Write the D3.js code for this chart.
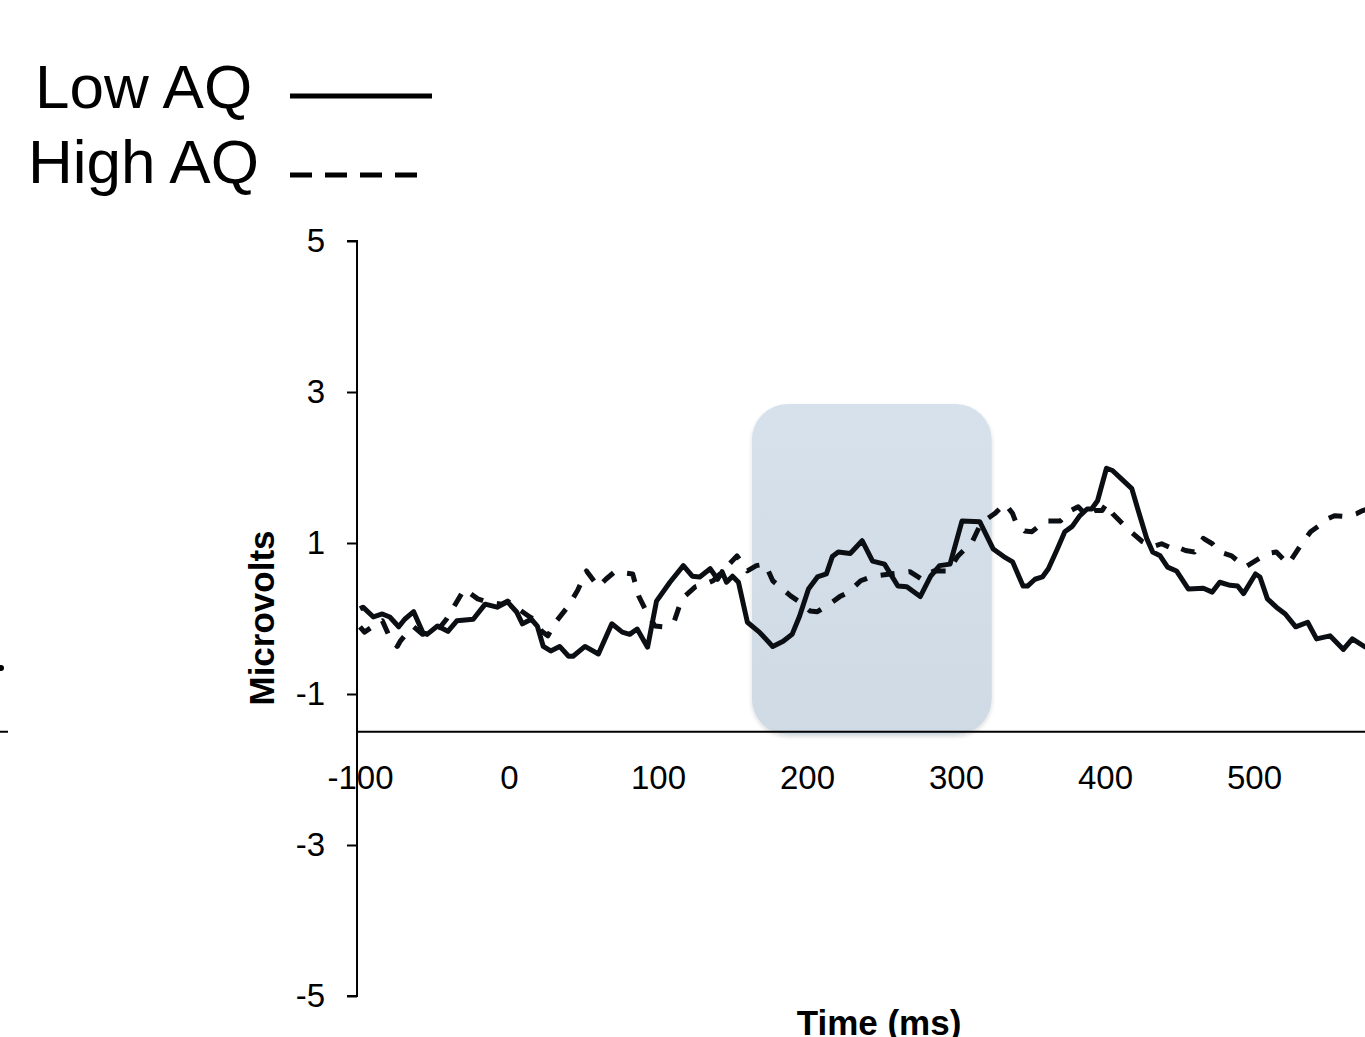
<!DOCTYPE html>
<html>
	<head>
		<title>ERP - Low AQ vs High AQ</title>
		<script src="https://d3js.org/d3.v7.min.js"></script>
		<style>
			body { margin: 0; background: #fff; }
			text { font-family: "Liberation Sans", Arial, sans-serif; fill: #000; }
		</style>
	</head>

	<body>

		<svg width="1365" height="1037"></svg>

		<script type="text/javascript">
			// Low AQ (solid line)
			var lowTime = [-100, -98, -91, -85, -80, -74, -70, -64, -58, -55, -48, -41, -35, -24, -16, -8, -1,
				5, 9, 15, 19, 23, 28, 34, 40, 43, 51, 60, 69, 76, 81, 86, 93, 99, 108, 117, 123, 128, 135,
				140, 143, 146, 150, 154, 160, 168, 177, 184, 190, 195, 201, 207, 213, 217, 221, 229, 237,
				244, 252, 261, 267, 276, 283, 289, 296, 304, 316, 325, 332, 338, 345, 348, 353, 358, 362,
				368, 373, 378, 383, 388, 391, 395, 401, 405, 411, 418, 422, 428, 432, 437, 442, 448, 456,
				466, 472, 477, 484, 489, 493, 501, 504, 509, 515, 521, 528, 536, 542, 551, 560, 566, 574, 580];
			var lowValues = [0.13, 0.15, 0.02, 0.06, 0.02, -0.11, -0.01, 0.09, -0.18, -0.21, -0.10, -0.17, -0.03,
				-0.01, 0.19, 0.15, 0.22, 0.09, -0.07, -0.01, -0.10, -0.37, -0.43, -0.37, -0.50, -0.50, -0.37,
				-0.47, -0.07, -0.18, -0.21, -0.14, -0.38, 0.23, 0.48, 0.70, 0.56, 0.55, 0.66, 0.52, 0.62, 0.48,
				0.56, 0.48, -0.05, -0.18, -0.37, -0.30, -0.21, 0.03, 0.39, 0.55, 0.59, 0.82, 0.88, 0.86, 1.03,
				0.76, 0.72, 0.43, 0.42, 0.29, 0.56, 0.70, 0.72, 1.29, 1.28, 0.92, 0.82, 0.75, 0.43, 0.43, 0.52,
				0.55, 0.66, 0.92, 1.15, 1.22, 1.36, 1.45, 1.45, 1.56, 1.99, 1.96, 1.85, 1.72, 1.45, 1.06, 0.88,
				0.83, 0.68, 0.63, 0.39, 0.40, 0.35, 0.48, 0.44, 0.43, 0.33, 0.59, 0.55, 0.26, 0.15, 0.06, -0.11,
				-0.05, -0.27, -0.23, -0.41, -0.27, -0.37, -0.42];

			// High AQ (dashed line)
			var highTime = [-100, -97, -91, -85, -80, -75, -73, -68, -64, -58, -52, -46, -42, -36, -30, -21, -13,
				-5, -1, 6, 14, 17, 22, 26, 32, 40, 46, 52, 60, 65, 71, 83, 87, 93, 98, 103, 111, 116, 125, 132,
				137, 145, 153, 160, 166, 172, 177, 189, 195, 202, 207, 215, 222, 228, 236, 244, 256, 269, 277,
				285, 295, 301, 306, 311, 316, 321, 326, 333, 338, 341, 346, 351, 356, 360, 370, 377, 382, 388,
				393, 398, 401, 405, 410, 415, 425, 432, 438, 446, 448, 454, 460, 466, 472, 477, 485, 494, 503,
				509, 515, 523, 531, 538, 543, 546, 554, 562, 569, 573, 581];
			var highValues = [-0.11, -0.18, -0.10, -0.03, -0.25, -0.37, -0.30, -0.18, -0.11, -0.21, -0.17, -0.11,
				-0.01, 0.19, 0.39, 0.26, 0.21, 0.19, 0.23, 0.13, 0.02, -0.01, -0.17, -0.23, -0.03, 0.17, 0.37,
				0.63, 0.42, 0.52, 0.62, 0.59, 0.30, 0.06, -0.10, -0.11, -0.03, 0.26, 0.42, 0.46, 0.50, 0.66,
				0.83, 0.63, 0.70, 0.72, 0.50, 0.30, 0.22, 0.10, 0.09, 0.19, 0.29, 0.35, 0.50, 0.56, 0.59, 0.62,
				0.52, 0.63, 0.63, 0.82, 0.92, 1.02, 1.23, 1.32, 1.39, 1.52, 1.39, 1.23, 1.16, 1.15, 1.23, 1.29,
				1.29, 1.43, 1.48, 1.36, 1.43, 1.43, 1.52, 1.39, 1.29, 1.19, 1.02, 0.95, 0.99, 0.92, 0.95, 0.90,
				0.88, 1.06, 0.99, 0.88, 0.83, 0.68, 0.79, 0.86, 0.88, 0.72, 0.96, 1.15, 1.22, 1.29, 1.36, 1.35,
				1.39, 1.43, 1.48];

			var yTicks = [5, 3, 1, -1, -3, -5];
			var xTicks = [-100, 0, 100, 200, 300, 400, 500];
			var windowTime = [163, 324];     // shaded analysis window
			var windowVolts = [2.84, -1.54];
			var legendNames = ["Low AQ", "High AQ"];

			var svg = d3.select("svg");

			var x = d3.scaleLinear()
				.domain([-100, 600])
				.range([360, 1403]);

			var y = d3.scaleLinear()
				.domain([-5, 5])
				.range([996, 241]);

			var axisX = x(-102);   // y axis sits just left of -100
			var axisY = y(-1.5);   // x axis crosses at -1.5 µV

			// plain hyphen for negatives, like the original
			var fmt = function(d) { return String(d); };

			// shaded window
			var defs = svg.append("defs");
			var grad = defs.append("linearGradient")
				.attr("id", "win")
				.attr("x1", 0).attr("y1", 0).attr("x2", 0).attr("y2", 1);
			grad.append("stop").attr("offset", "0%").attr("stop-color", "#d6e1ec");
			grad.append("stop").attr("offset", "100%").attr("stop-color", "#cfdae5");

			var blur = defs.append("filter").attr("id", "soft")
				.attr("x", "-10%").attr("y", "-10%").attr("width", "120%").attr("height", "120%");
			blur.append("feGaussianBlur").attr("in", "SourceAlpha").attr("stdDeviation", 2).attr("result", "b");
			blur.append("feOffset").attr("in", "b").attr("dy", 2).attr("result", "o");
			blur.append("feComponentTransfer").attr("in", "o").attr("result", "s")
				.append("feFuncA").attr("type", "linear").attr("slope", 0.15);
			var merge = blur.append("feMerge");
			merge.append("feMergeNode").attr("in", "s");
			merge.append("feMergeNode").attr("in", "SourceGraphic");

			svg.append("rect")
				.attr("x", x(windowTime[0]))
				.attr("y", y(windowVolts[0]))
				.attr("width", x(windowTime[1]) - x(windowTime[0]))
				.attr("height", y(windowVolts[1]) - y(windowVolts[0]))
				.attr("rx", 36)
				.attr("filter", "url(#soft)")
				.style("fill", "url(#win)");

			// y axis
			var yAxis = d3.axisLeft(y)
				.tickValues(yTicks)
				.tickSize(10)
				.tickPadding(22)
				.tickFormat(fmt);

			var gy = svg.append("g")
				.attr("transform", "translate(" + axisX + ",0)")
				.call(yAxis);
			gy.select(".domain").attr("stroke", "#000").attr("stroke-width", 2)
				.attr("d", "M-10," + y(5) + "H0V" + y(-5) + "H-10");
			gy.selectAll(".tick line").attr("stroke", "#000").attr("stroke-width", 2);
			gy.selectAll(".tick text")
				.attr("font-size", 33)
				.attr("font-family", "Liberation Sans, Arial, sans-serif")
				.attr("fill", "#000");

			// x axis (labels only, no ticks)
			var xAxis = d3.axisBottom(x)
				.tickValues(xTicks)
				.tickSize(0)
				.tickPadding(34)
				.tickFormat(fmt);

			var gx = svg.append("g")
				.attr("transform", "translate(0," + axisY + ")")
				.call(xAxis);
			gx.select(".domain").attr("stroke", "#000").attr("stroke-width", 2)
				.attr("d", "M" + axisX + ",0H1403");
			gx.selectAll(".tick text")
				.attr("font-size", 33)
				.attr("font-family", "Liberation Sans, Arial, sans-serif")
				.attr("fill", "#000");

			// axis titles
			svg.append("text")
				.attr("transform", "translate(274,618) rotate(-90)")
				.attr("text-anchor", "middle")
				.attr("font-size", 35)
				.attr("font-weight", "bold")
				.text("Microvolts");

			svg.append("text")
				.attr("x", 879)
				.attr("y", 1035)
				.attr("text-anchor", "middle")
				.attr("font-size", 35)
				.attr("font-weight", "bold")
				.text("Time (ms)");

			// lines
			var line = d3.line()
				.x(function(d) { return x(d[0]); })
				.y(function(d) { return y(d[1]); });

			var lowData = lowTime.map(function(t, i) { return [t, lowValues[i]]; });
			var highData = highTime.map(function(t, i) { return [t, highValues[i]]; });

			svg.append("path")
				.datum(highData)
				.attr("d", line)
				.attr("fill", "none")
				.attr("stroke", "#0b0f14")
				.attr("stroke-width", 5)
				.attr("stroke-linejoin", "round")
				.attr("stroke-dasharray", "14,14");

			svg.append("path")
				.datum(lowData)
				.attr("d", line)
				.attr("fill", "none")
				.attr("stroke", "#0b0f14")
				.attr("stroke-width", 5)
				.attr("stroke-linejoin", "round");

			// legend
			var legend = svg.append("g");
			legend.selectAll("text")
				.data(legendNames)
				.enter().append("text")
				.attr("x", function(d, i) { return i == 0 ? 35 : 28; })
				.attr("y", function(d, i) { return 108 + i * 75; })
				.attr("font-size", 62)
				.text(function(d) { return d; });

			legend.selectAll("line")
				.data(legendNames)
				.enter().append("line")
				.attr("x1", 290)
				.attr("x2", function(d, i) { return i == 0 ? 432 : 425; })
				.attr("y1", function(d, i) { return 96 + i * 79; })
				.attr("y2", function(d, i) { return 96 + i * 79; })
				.attr("stroke", "#000")
				.attr("stroke-width", 5)
				.attr("stroke-dasharray", function(d, i) { return i == 0 ? null : "22,13"; });

			// bits of the neighbouring panel at the left edge
			svg.append("line")
				.attr("x1", 0).attr("x2", 8)
				.attr("y1", axisY).attr("y2", axisY)
				.attr("stroke", "#000").attr("stroke-width", 2);
			svg.append("circle")
				.attr("cx", 1).attr("cy", 668).attr("r", 3)
				.attr("fill", "#000");

		</script>

	</body>
</html>
